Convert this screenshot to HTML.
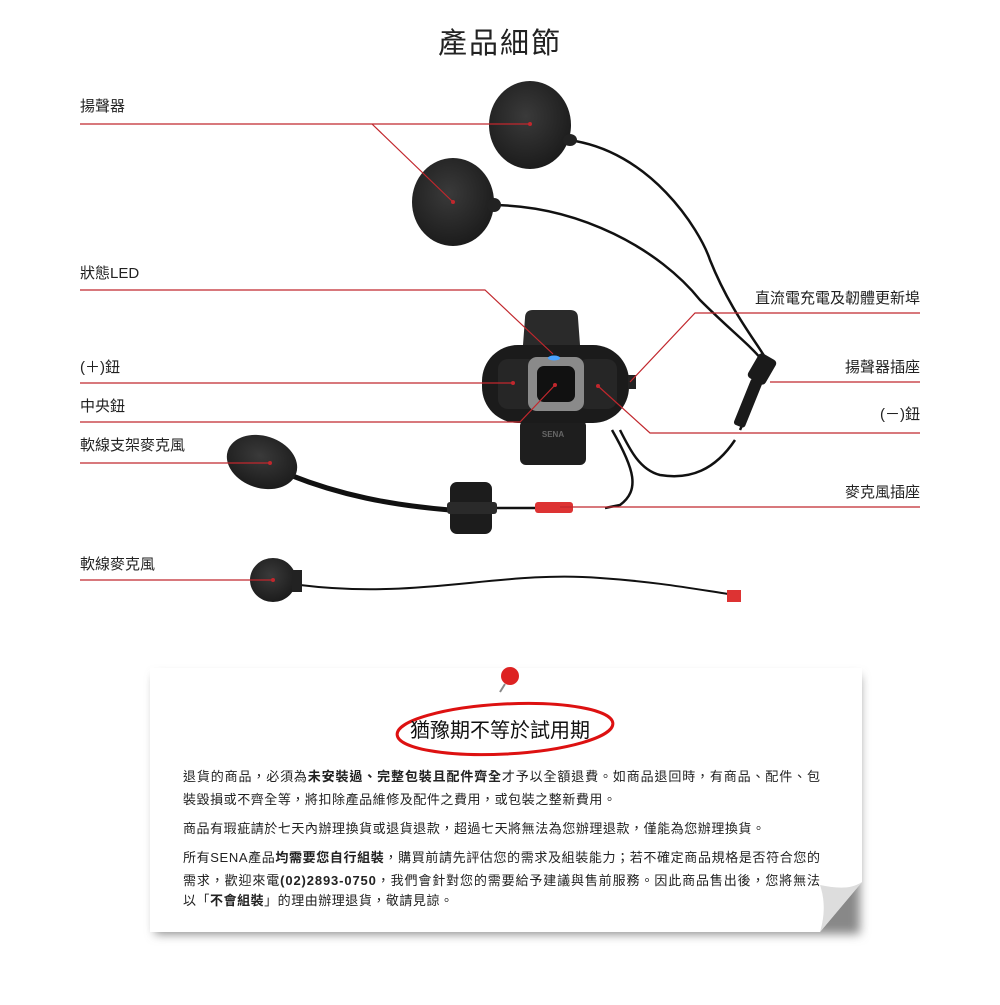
<!DOCTYPE html>
<html><head><meta charset="utf-8">
<style>
body{margin:0;background:#fff;width:1000px;height:1000px;overflow:hidden;font-family:"Liberation Sans","Noto Sans CJK TC",sans-serif;}
svg text{font-family:"Liberation Sans","Noto Sans CJK TC",sans-serif;}
.lbl{font-size:15px;fill:#222}
</style></head><body>
<svg width="1000" height="1000" viewBox="0 0 1000 1000" xmlns="http://www.w3.org/2000/svg">
<defs>
<radialGradient id="foam" cx="45%" cy="40%" r="60%"><stop offset="0" stop-color="#3a3a3a"/><stop offset="1" stop-color="#1c1c1c"/></radialGradient>
<filter id="sh" x="-5%" y="-5%" width="110%" height="115%"><feGaussianBlur stdDeviation="5"/></filter>
</defs>
<text x="500" y="53" text-anchor="middle" font-size="29" fill="#222" letter-spacing="2">產品細節</text>

<g fill="none" stroke="#111" stroke-width="2.5">
<path d="M568 140 C650 150 700 230 710 260 C730 310 755 340 768 362"/>
<path d="M490 205 C580 205 660 250 700 300 C730 330 750 345 762 360"/>
<path d="M758 390 L740 430"/>
<path d="M735 440 C715 470 690 480 660 475 C640 470 630 450 620 430"/>
<path d="M612 430 C635 470 640 490 620 505 L605 508"/>
<path d="M497 508 L560 508"/>
<path d="M290 475 C340 495 390 505 450 510" stroke-width="5"/>
<path d="M300 585 C420 600 500 570 600 578 C660 582 700 590 735 595" stroke-width="2"/>
</g>
<ellipse cx="530" cy="125" rx="41" ry="44" fill="url(#foam)"/>
<ellipse cx="453" cy="202" rx="41" ry="44" fill="url(#foam)"/>
<ellipse cx="570" cy="140" rx="7" ry="6" fill="#222"/>
<ellipse cx="494" cy="205" rx="7" ry="7" fill="#222"/>
<rect x="752" y="355" width="20" height="28" rx="4" fill="#1a1a1a" transform="rotate(30 762 369)"/>
<rect x="742" y="378" width="12" height="50" rx="3" fill="#1a1a1a" transform="rotate(22 748 403)"/>
<path d="M525 318 Q525 310 533 310 L570 310 Q578 310 578 318 L580 345 L523 345 Z" fill="#2a2a2a"/>
<rect x="520" y="420" width="66" height="45" rx="6" fill="#1e1e1e"/>
<text x="553" y="437" text-anchor="middle" font-size="8" fill="#666" font-weight="bold">SENA</text>
<rect x="482" y="345" width="147" height="78" rx="36" fill="#1b1b1b"/>
<rect x="498" y="359" width="40" height="50" rx="10" fill="#262626"/>
<rect x="577" y="359" width="40" height="50" rx="10" fill="#262626"/>
<rect x="528" y="357" width="56" height="54" rx="9" fill="#8a8a8a"/>
<rect x="537" y="366" width="38" height="36" rx="7" fill="#111"/>
<ellipse cx="554" cy="358" rx="6" ry="2.5" fill="#4aa3ff"/>
<rect x="628" y="375" width="8" height="14" fill="#222"/>
<ellipse cx="262" cy="462" rx="36" ry="26" fill="url(#foam)" transform="rotate(18 262 462)"/>
<rect x="450" y="482" width="42" height="52" rx="7" fill="#1c1c1c"/>
<rect x="447" y="502" width="50" height="12" rx="3" fill="#2a2a2a"/>
<rect x="535" y="502" width="38" height="11" rx="3" fill="#d33"/>
<ellipse cx="273" cy="580" rx="23" ry="22" fill="url(#foam)"/>
<rect x="292" y="570" width="10" height="22" fill="#222"/>
<rect x="727" y="590" width="14" height="12" fill="#d33"/>

<g stroke="#c1272d" stroke-width="1.2" fill="none">
<path d="M80 124 L530 124"/><path d="M372 124 L453 202"/>
<path d="M80 290 L485 290 L553 354"/>
<path d="M80 383 L513 383"/>
<path d="M80 422 L520 422 L555 385"/>
<path d="M80 463 L270 463"/>
<path d="M80 580 L273 580"/>
<path d="M920 313 L695 313 L630 382"/>
<path d="M920 382 L770 382"/>
<path d="M920 433 L650 433 L598 386"/>
<path d="M920 507 L560 507"/>
</g>
<g fill="#c1272d"><circle cx="530" cy="124" r="2"/><circle cx="453" cy="202" r="2"/><circle cx="513" cy="383" r="2"/><circle cx="555" cy="385" r="2"/><circle cx="270" cy="463" r="2"/><circle cx="273" cy="580" r="2"/><circle cx="598" cy="386" r="2"/></g>

<text class="lbl" x="80" y="111">揚聲器</text>
<text class="lbl" x="80" y="278">狀態LED</text>
<text class="lbl" x="80" y="372">(＋)鈕</text>
<text class="lbl" x="80" y="411">中央鈕</text>
<text class="lbl" x="80" y="450">軟線支架麥克風</text>
<text class="lbl" x="80" y="569">軟線麥克風</text>
<text class="lbl" x="920" y="303" text-anchor="end">直流電充電及韌體更新埠</text>
<text class="lbl" x="920" y="372" text-anchor="end">揚聲器插座</text>
<text class="lbl" x="920" y="419" text-anchor="end">(－)鈕</text>
<text class="lbl" x="920" y="497" text-anchor="end">麥克風插座</text>

<rect x="155" y="676" width="705" height="258" fill="#888" filter="url(#sh)"/>
<path d="M150 668 L862 668 L862 882 L820 932 L150 932 Z" fill="#fff"/>
<path d="M862 882 C850 890 835 888 820 885 C825 900 825 915 820 932 Z" fill="#ddd"/>
<circle cx="510" cy="676" r="9" fill="#d22"/>
<path d="M505 684 L500 692" stroke="#888" stroke-width="2"/>
<ellipse cx="505" cy="729" rx="108" ry="25" fill="none" stroke="#d11" stroke-width="3" transform="rotate(-3 505 729)"/>
<text x="500" y="737" text-anchor="middle" font-size="20" fill="#111">猶豫期不等於試用期</text>
<g font-size="13" fill="#222">
<text x="183" y="781" textLength="637" lengthAdjust="spacing">退貨的商品，必須為<tspan font-weight="bold">未安裝過、完整包裝且配件齊全</tspan>才予以全額退費。如商品退回時，有商品、配件、包</text>
<text x="183" y="804" textLength="433" lengthAdjust="spacing">裝毀損或不齊全等，將扣除產品維修及配件之費用，或包裝之整新費用。</text>
<text x="183" y="833" textLength="582" lengthAdjust="spacing">商品有瑕疵請於七天內辦理換貨或退貨退款，超過七天將無法為您辦理退款，僅能為您辦理換貨。</text>
<text x="183" y="862" textLength="637" lengthAdjust="spacing">所有SENA產品<tspan font-weight="bold">均需要您自行組裝</tspan>，購買前請先評估您的需求及組裝能力；若不確定商品規格是否符合您的</text>
<text x="183" y="885" textLength="637" lengthAdjust="spacing">需求，歡迎來電<tspan font-weight="bold">(02)2893-0750</tspan>，我們會針對您的需要給予建議與售前服務。因此商品售出後，您將無法</text>
<text x="183" y="905" textLength="270" lengthAdjust="spacing">以「<tspan font-weight="bold">不會組裝</tspan>」的理由辦理退貨，敬請見諒。</text>
</g>
</svg>
</body></html>
